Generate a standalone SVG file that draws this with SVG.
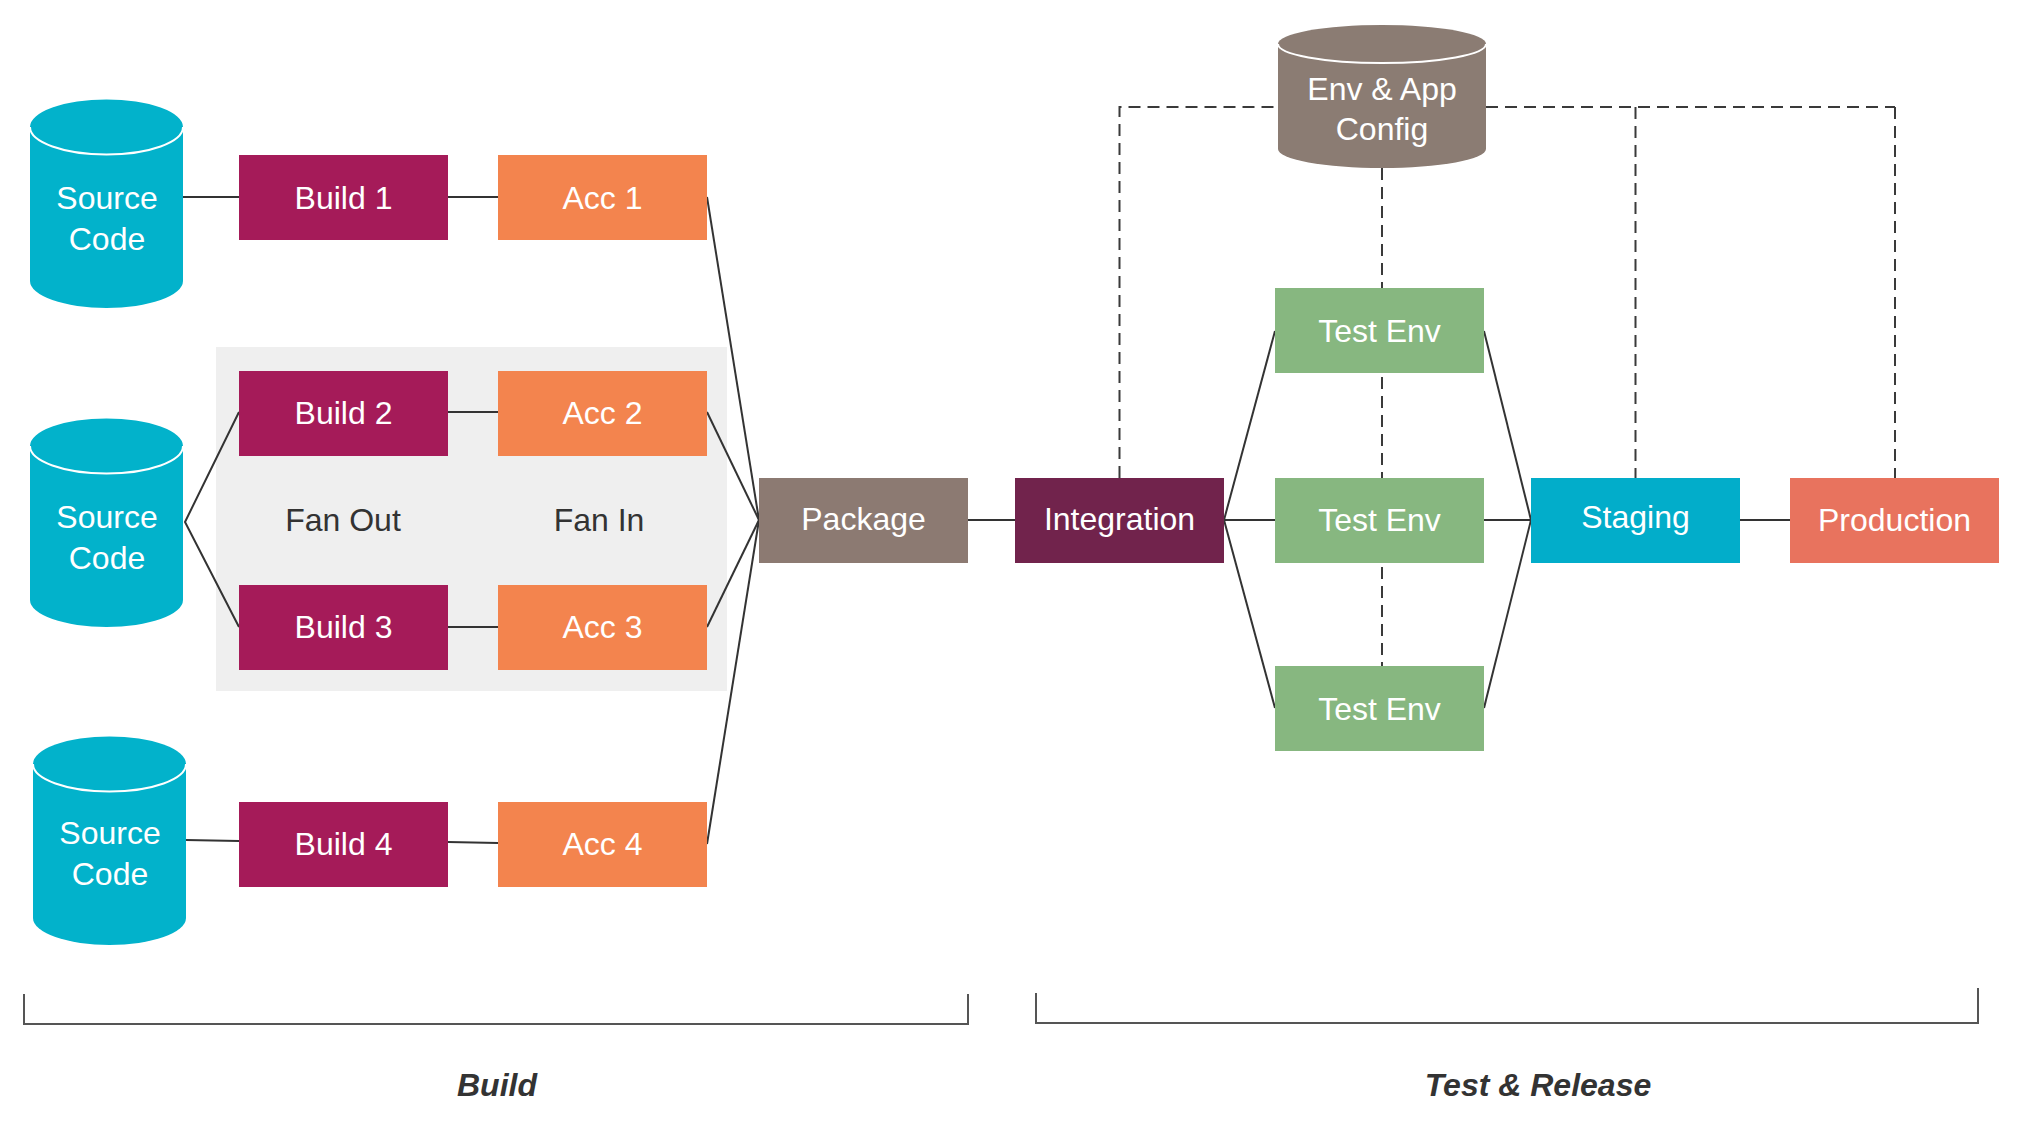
<svg xmlns="http://www.w3.org/2000/svg" width="2024" height="1122" viewBox="0 0 2024 1122">
<style>
text{font-family:"Liberation Sans",Arial,sans-serif;font-size:32px;text-anchor:middle}
.w{fill:#ffffff}
.d{fill:#333333}
.ln{stroke:#333333;stroke-width:2;fill:none}
.dash{stroke:#3a3a3a;stroke-width:2;fill:none;stroke-dasharray:12 7}
.br{stroke:#555555;stroke-width:2;fill:none}
.build{fill:#A51B59}
.acc{fill:#F3844E}
.test{fill:#87B780}
.src{fill:#02B2CB}
.cfg{fill:#8B7C73}
.lbl{font-weight:bold;font-style:italic;font-size:32px;fill:#333333}
</style>
<rect x="0" y="0" width="2024" height="1122" fill="#ffffff"/>
<rect id="fan-area" x="216" y="347" width="511" height="344" fill="#EFEFEF"/>
<g id="connectors">
<line class="ln" x1="183" y1="197" x2="239" y2="197"/>
<line class="ln" x1="448" y1="197" x2="498" y2="197"/>
<polyline class="ln" points="239,412 185,522 239,627"/>
<line class="ln" x1="448" y1="412" x2="498" y2="412"/>
<line class="ln" x1="448" y1="627" x2="498" y2="627"/>
<line class="ln" x1="186" y1="840" x2="239" y2="841"/>
<line class="ln" x1="448" y1="842" x2="498" y2="843"/>
<line class="ln" x1="707" y1="197" x2="759" y2="520"/>
<line class="ln" x1="707" y1="412" x2="759" y2="520"/>
<line class="ln" x1="707" y1="627" x2="759" y2="520"/>
<line class="ln" x1="707" y1="844" x2="759" y2="520"/>
<line class="ln" x1="968" y1="520" x2="1015" y2="520"/>
<line class="ln" x1="1224" y1="520" x2="1275" y2="331"/>
<line class="ln" x1="1224" y1="520" x2="1275" y2="520"/>
<line class="ln" x1="1224" y1="520" x2="1275" y2="708"/>
<line class="ln" x1="1484" y1="331" x2="1531" y2="520"/>
<line class="ln" x1="1484" y1="520" x2="1531" y2="520"/>
<line class="ln" x1="1484" y1="708" x2="1531" y2="520"/>
<line class="ln" x1="1740" y1="520" x2="1790" y2="520"/>
<polyline class="dash" points="1119.5,478 1119.5,107 1278,107"/>
<line class="dash" x1="1486" y1="107" x2="1895" y2="107"/>
<line class="dash" x1="1635.5" y1="107" x2="1635.5" y2="478"/>
<line class="dash" x1="1895" y1="107" x2="1895" y2="478"/>
<line class="dash" x1="1382" y1="168" x2="1382" y2="666"/>
</g>
<g id="source1">
<path class="src" d="M30,127 A76.5,27.5 0 0 1 183,127 L183,281 A76.5,27 0 0 1 30,281 Z"/>
<path d="M30,127 A76.5,27.5 0 0 0 183,127" fill="none" stroke="#ffffff" stroke-width="2"/>
<text class="w" x="107" y="209">Source</text><text class="w" x="107" y="250">Code</text>
</g>
<g id="source2">
<path class="src" d="M30,446 A76.5,27.5 0 0 1 183,446 L183,600 A76.5,27 0 0 1 30,600 Z"/>
<path d="M30,446 A76.5,27.5 0 0 0 183,446" fill="none" stroke="#ffffff" stroke-width="2"/>
<text class="w" x="107" y="528">Source</text><text class="w" x="107" y="569">Code</text>
</g>
<g id="source3">
<path class="src" d="M33,764 A76.5,27.5 0 0 1 186,764 L186,918 A76.5,27 0 0 1 33,918 Z"/>
<path d="M33,764 A76.5,27.5 0 0 0 186,764" fill="none" stroke="#ffffff" stroke-width="2"/>
<text class="w" x="110" y="844">Source</text><text class="w" x="110" y="885">Code</text>
</g>
<g id="build1"><rect class="build" x="239" y="155" width="209" height="85"/><text class="w" x="343.5" y="209">Build 1</text></g>
<g id="acc1"><rect class="acc" x="498" y="155" width="209" height="85"/><text class="w" x="602.5" y="209">Acc 1</text></g>
<g id="build2"><rect class="build" x="239" y="371" width="209" height="85"/><text class="w" x="343.5" y="424">Build 2</text></g>
<g id="acc2"><rect class="acc" x="498" y="371" width="209" height="85"/><text class="w" x="602.5" y="424">Acc 2</text></g>
<g id="fanout"><text class="d" x="343" y="531">Fan Out</text></g>
<g id="fanin"><text class="d" x="599" y="531">Fan In</text></g>
<g id="build3"><rect class="build" x="239" y="585" width="209" height="85"/><text class="w" x="343.5" y="638">Build 3</text></g>
<g id="acc3"><rect class="acc" x="498" y="585" width="209" height="85"/><text class="w" x="602.5" y="638">Acc 3</text></g>
<g id="build4"><rect class="build" x="239" y="802" width="209" height="85"/><text class="w" x="343.5" y="855">Build 4</text></g>
<g id="acc4"><rect class="acc" x="498" y="802" width="209" height="85"/><text class="w" x="602.5" y="855">Acc 4</text></g>
<g id="package"><rect x="759" y="478" width="209" height="85" fill="#8C7A72"/><text class="w" x="863.5" y="530">Package</text></g>
<g id="integration"><rect x="1015" y="478" width="209" height="85" fill="#71234C"/><text class="w" x="1119.5" y="530">Integration</text></g>
<g id="config">
<path class="cfg" d="M1278,44 A104,19 0 0 1 1486,44 L1486,149 A104,19 0 0 1 1278,149 Z"/>
<path d="M1278,44 A104,19 0 0 0 1486,44" fill="none" stroke="#ffffff" stroke-width="2"/>
<text class="w" x="1382" y="100">Env &amp; App</text><text class="w" x="1382" y="140">Config</text>
</g>
<g id="test1"><rect class="test" x="1275" y="288" width="209" height="85"/><text class="w" x="1379.5" y="342">Test Env</text></g>
<g id="test2"><rect class="test" x="1275" y="478" width="209" height="85"/><text class="w" x="1379.5" y="531">Test Env</text></g>
<g id="test3"><rect class="test" x="1275" y="666" width="209" height="85"/><text class="w" x="1379.5" y="720">Test Env</text></g>
<g id="staging"><rect x="1531" y="478" width="209" height="85" fill="#02ADCA"/><text class="w" x="1635.5" y="528">Staging</text></g>
<g id="production"><rect x="1790" y="478" width="209" height="85" fill="#E8735E"/><text class="w" x="1894.5" y="531">Production</text></g>
<g id="brackets">
<polyline class="br" points="24,994 24,1024 968,1024 968,994"/>
<polyline class="br" points="1036,993 1036,1023 1978,1023 1978,988"/>
<text class="lbl" x="497" y="1096">Build</text>
<text class="lbl" x="1538" y="1096">Test &amp; Release</text>
</g>
</svg>
